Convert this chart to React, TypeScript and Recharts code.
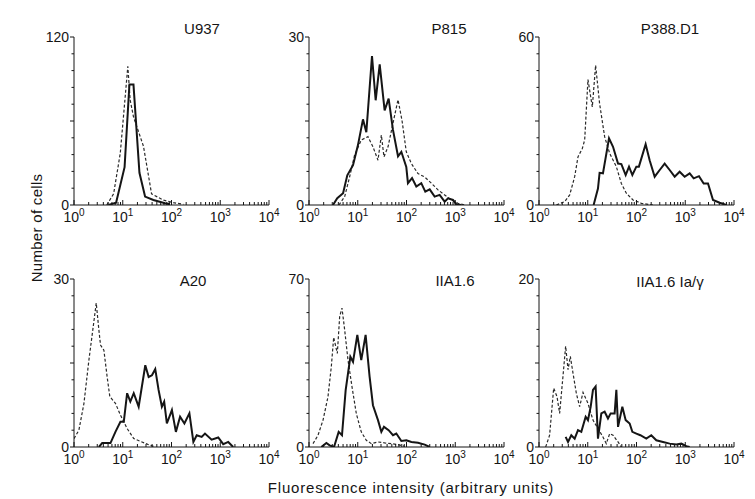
import { Line, LineChart, XAxis, YAxis } from "recharts";

type Pt = [number, number];

// fluorescence (x) vs number of cells (y); solid = test, dashed = control
const U937_SOLID: Pt[] = [
  [5.1, 0], [7.3, 1.7], [10.9, 27], [13.7, 86], [16.6, 86], [22, 23],
  [28.7, 6], [42.5, 3.6], [73.6, 1.2], [93, 0.5],
];
const U937_DASHED: Pt[] = [
  [4.7, 0], [6.5, 8], [8.9, 37], [11.2, 77], [12.7, 99], [14.2, 75],
  [16.6, 63], [26.6, 42], [39, 8], [68, 3.5], [109, 1.7], [175, 0.5],
];

const P815_SOLID: Pt[] = [
  [3.1, 0], [3.8, 1.2], [5.0, 2.1], [6.1, 5.3], [8.0, 7.1], [10.1, 10.7],
  [12.8, 15.3], [15, 13], [19.6, 26.6], [23.3, 18.7], [28.2, 25.1],
  [35.6, 16.9], [43, 19], [52.8, 13.4], [67, 8.7], [78.4, 9.5], [99, 6.8],
  [107, 3.9], [130, 4.8], [159, 3.3], [201, 3.9], [243, 2.4], [299, 2.8],
  [378, 1.5], [479, 1.8], [607, 0.6], [710, 1.2], [899, 0.9], [1052, 0.1],
  [1333, 0],
];
const P815_DASHED: Pt[] = [
  [4.1, 0], [5.4, 1.5], [6.8, 5], [8.6, 8.9], [11.8, 11.6], [16.2, 12.2],
  [20.5, 10.4], [26, 8], [30.5, 12.5], [34.5, 8.6], [41.8, 10.4],
  [52.8, 14.6], [67, 18.8], [80.9, 15.1], [99, 9.5], [126, 7.4], [172, 5.6],
  [236, 5], [323, 3.9], [443, 2.7], [607, 1.8], [831, 0.9], [1138, 0.3],
  [1560, 0],
];

const P388_SOLID: Pt[] = [
  [13.2, 0], [16.2, 5.9], [17.5, 11.5], [20.5, 11.3], [27.3, 23.8],
  [33, 20.8], [41.8, 14.8], [48.9, 14.6], [60, 10.7], [70.2, 13.7],
  [82.2, 10.7], [99.3, 13.7], [112, 13.7], [154, 21.7], [186, 16],
  [236, 10.1], [299, 12.5], [378, 14.8], [479, 12.5], [607, 10.1],
  [767, 11.9], [972, 10.1], [1232, 11.3], [1489, 9.5], [1915, 10.3],
  [2387, 7.7], [2929, 7.7], [3710, 1.8], [5080, 0.8], [6960, 0],
];
const P388_DASHED: Pt[] = [
  [2.27, 0], [3.36, 1.2], [4.26, 3.6], [5.39, 10.1], [6.31, 17.2],
  [7.74, 20.2], [8.65, 23.2], [10.1, 44.8], [12.4, 35], [14.5, 49.9],
  [17.5, 36.2], [22.2, 24.4], [28.2, 18.4], [38.6, 13.7], [48.9, 7.7],
  [61.8, 4.2], [84.8, 1.8], [126, 0.6], [218, 0],
];

const A20_SOLID: Pt[] = [
  [3.24, 0], [3.79, 0.7], [5.6, 0.7], [7.08, 2.7], [8.96, 4.5], [10.5, 4.5],
  [12.3, 9.6], [14.3, 8.1], [16.8, 9.6], [21.2, 7.2], [29, 14.6], [34, 12.5],
  [39.7, 12.8], [46.4, 13.9], [54.3, 10.2], [63.5, 7.2], [70.8, 8.1],
  [80.3, 4.2], [102, 6.6], [123, 2.7], [150, 5.4], [184, 4.2], [233, 6],
  [281, 0.9], [329, 2.1], [416, 1.8], [486, 2.4], [665, 1.3], [910, 1.7],
  [1151, 0.5], [1457, 0.9], [1842, 0],
];
const A20_DASHED: Pt[] = [
  [1, 1.5], [1.26, 3], [1.6, 7.8], [2.02, 15.5], [2.48, 21.5], [2.86, 25.7],
  [3.24, 20.9], [3.5, 18.2], [4.1, 17.3], [4.79, 12.5], [5.43, 9],
  [7.08, 7.8], [8.96, 5.7], [12.3, 3.3], [16.8, 1.5], [24.8, 0.9],
  [34, 0.4], [46.4, 0],
];

const IIA_SOLID: Pt[] = [
  [1.79, 0], [2.27, 1.7], [2.65, 0.7], [3.26, 0], [4.06, 6.3], [4.75, 4.9],
  [5.65, 23.7], [7.05, 37.6], [8, 35.5], [9.8, 46.7], [11.8, 36.2],
  [14.5, 46.7], [17.5, 29.3], [20.5, 17.4], [26, 11.2], [30.5, 6.3],
  [34.5, 8.4], [43, 7], [52.8, 4.9], [61.8, 5.6], [78.4, 2.5], [99.3, 2.8],
  [126, 2.1], [172, 1.8], [236, 1], [299, 0],
];
const IIA_DASHED: Pt[] = [
  [1.21, 1.4], [1.53, 4.9], [1.94, 11.2], [2.45, 20.9], [2.87, 33.5],
  [3.21, 45.7], [3.81, 39], [4.26, 54.4], [4.75, 57.9], [5.39, 48.8],
  [6.31, 36.2], [7.62, 25.1], [9.35, 13.9], [11.8, 6.3], [15, 2.8],
  [19, 1.4], [26, 2.1], [35.6, 1.7], [48.9, 1.4], [67, 1], [91.7, 0.3],
];

const IIAG_SOLID: Pt[] = [
  [3.52, 1.2], [3.94, 0.6], [4.6, 1.4], [5.39, 1], [6.31, 2], [7.38, 1.8],
  [9.06, 3.6], [10.1, 3.2], [11.5, 4.8], [12.8, 6.8], [14.5, 7.2], [16.2, 1],
  [19, 4], [22.2, 4.2], [26, 3.4], [29.5, 4], [35.6, 4], [38.6, 6.8],
  [41.8, 2.4], [51.2, 4.8], [60, 3.2], [72.4, 2.8], [82.2, 1.8], [99.3, 1.6],
  [120, 1.4], [159, 1], [201, 1.4], [255, 0.8], [350, 0.6], [479, 0.4],
  [656, 0.3], [831, 0.4], [1052, 0.1], [1232, 0],
];
const IIAG_DASHED: Pt[] = [
  [1.37, 0], [1.65, 1.4], [2, 7], [2.34, 6], [2.65, 4], [3.1, 8.4],
  [3.52, 12], [3.94, 9.2], [4.39, 10.8], [4.98, 8.8], [5.83, 6.4],
  [6.82, 4.8], [8, 6.5], [10.1, 5.2], [12.8, 3.2], [16.2, 2.2], [20.5, 1.2],
  [24, 0.4], [28.2, 1.6], [33, 1.4], [41.8, 0.6], [48.9, 0],
];

const MAJOR_X = [1, 10, 100, 1000, 10000];
const MINOR_MULTS = [2, 3, 4, 5, 6, 7, 8, 9];
const X_TICKS = [
  ...MAJOR_X,
  ...MAJOR_X.slice(0, -1).flatMap((d) => MINOR_MULTS.map((m) => m * d)),
].sort((a, b) => a - b);

const FONT = '"Liberation Sans", Arial, Helvetica, sans-serif';
const INK = "#151515";

const Y_W = 40;
const M_TOP = 10;
const M_RIGHT = 12;
const PLOT_W = 195;
const PLOT_H = 168;
const X_H = 30;
const CHART_W = Y_W + PLOT_W + M_RIGHT;
const CHART_H = M_TOP + PLOT_H + X_H;

const PANELS = [
  { name: "U937", max: 120, solid: U937_SOLID, dashed: U937_DASHED, left: 74, top: 37, tx: 202, ty: 34 },
  { name: "P815", max: 30, solid: P815_SOLID, dashed: P815_DASHED, left: 309, top: 37, tx: 449, ty: 34 },
  { name: "P388.D1", max: 60, solid: P388_SOLID, dashed: P388_DASHED, left: 539, top: 37, tx: 670, ty: 34 },
  { name: "A20", max: 30, solid: A20_SOLID, dashed: A20_DASHED, left: 74, top: 279, tx: 193, ty: 286 },
  { name: "IIA1.6", max: 70, solid: IIA_SOLID, dashed: IIA_DASHED, left: 309, top: 279, tx: 455, ty: 286 },
  { name: "IIA1.6 Ia/γ", max: 20, solid: IIAG_SOLID, dashed: IIAG_DASHED, left: 539, top: 279, tx: 670, ty: 287 },
];

const toRows = (pts: Pt[]) => pts.map(([x, y]) => ({ x, y }));

function XTick(props: any) {
  const { x, payload } = props;
  const v = payload.value;
  const exp = Math.round(Math.log10(v));
  const major = Math.abs(v - Math.pow(10, exp)) < 1e-6;
  const y0 = M_TOP + PLOT_H;
  return (
    <g>
      <line x1={x} x2={x} y1={y0} y2={y0 - (major ? 5 : 3)} stroke={INK} strokeWidth={1} />
      {major && (
        <text x={x} y={y0 + 17} textAnchor="middle" fontSize={14} fill={INK} fontFamily={FONT}>
          10
          <tspan dy={-6.5} fontSize={10}>
            {exp}
          </tspan>
        </text>
      )}
    </g>
  );
}

function renderYTick(props: any, max: number) {
  const { y, payload } = props;
  const v = payload.value;
  const i = Math.round((v / max) * 10);
  const long = i % 5 === 0;
  const showLabel = i === 0 || i === 10;
  return (
    <g>
      <line x1={Y_W} x2={Y_W - (long ? 4 : 2.5)} y1={y} y2={y} stroke={INK} strokeWidth={1} />
      {showLabel && (
        <text x={Y_W - 5} y={y + 5} textAnchor="end" fontSize={14} fill={INK} fontFamily={FONT}>
          {v}
        </text>
      )}
    </g>
  );
}

function Histogram({ max, solid, dashed }: { max: number; solid: Pt[]; dashed: Pt[] }) {
  const yTicks = Array.from({ length: 11 }, (_, i) => (max * i) / 10);
  return (
    <LineChart width={CHART_W} height={CHART_H} margin={{ top: M_TOP, right: M_RIGHT, left: 0, bottom: 0 }}>
      <XAxis
        type="number"
        dataKey="x"
        scale="log"
        domain={[1, 10000]}
        ticks={X_TICKS}
        interval={0}
        tick={XTick}
        tickLine={false}
        tickSize={0}
        tickMargin={0}
        height={X_H}
        stroke={INK}
        allowDataOverflow
      />
      <YAxis
        type="number"
        domain={[0, max]}
        ticks={yTicks}
        interval={0}
        tick={(p: any) => renderYTick(p, max)}
        tickLine={false}
        tickSize={0}
        tickMargin={0}
        width={Y_W}
        stroke={INK}
        allowDataOverflow
      />
      <Line
        data={toRows(dashed)}
        dataKey="y"
        type="linear"
        stroke="#2a2a2a"
        strokeWidth={1.2}
        strokeDasharray="3 2"
        dot={false}
        activeDot={false}
        isAnimationActive={false}
      />
      <Line
        data={toRows(solid)}
        dataKey="y"
        type="linear"
        stroke={INK}
        strokeWidth={2}
        dot={false}
        activeDot={false}
        isAnimationActive={false}
      />
    </LineChart>
  );
}

export default function App() {
  return (
    <div
      style={{
        position: "absolute",
        left: 0,
        top: 0,
        width: 755,
        height: 499,
        background: "#fff",
        overflow: "hidden",
        fontFamily: FONT,
      }}
    >
      {PANELS.map((p) => (
        <div key={p.name} style={{ position: "absolute", left: p.left - Y_W, top: p.top - M_TOP }}>
          <Histogram max={p.max} solid={p.solid} dashed={p.dashed} />
        </div>
      ))}
      <svg width={755} height={499} style={{ position: "absolute", left: 0, top: 0, pointerEvents: "none" }}>
        {PANELS.map((p) => (
          <text key={p.name} x={p.tx} y={p.ty} textAnchor="middle" fontSize={15} fill={INK} fontFamily={FONT}>
            {p.name}
          </text>
        ))}
        <text
          transform="translate(42,228) rotate(-90)"
          textAnchor="middle"
          fontSize={15}
          letterSpacing={0.3}
          fill={INK}
          fontFamily={FONT}
        >
          Number of cells
        </text>
        <text x={411} y={493} textAnchor="middle" fontSize={15} letterSpacing={0.8} fill={INK} fontFamily={FONT}>
          Fluorescence intensity (arbitrary units)
        </text>
      </svg>
    </div>
  );
}
